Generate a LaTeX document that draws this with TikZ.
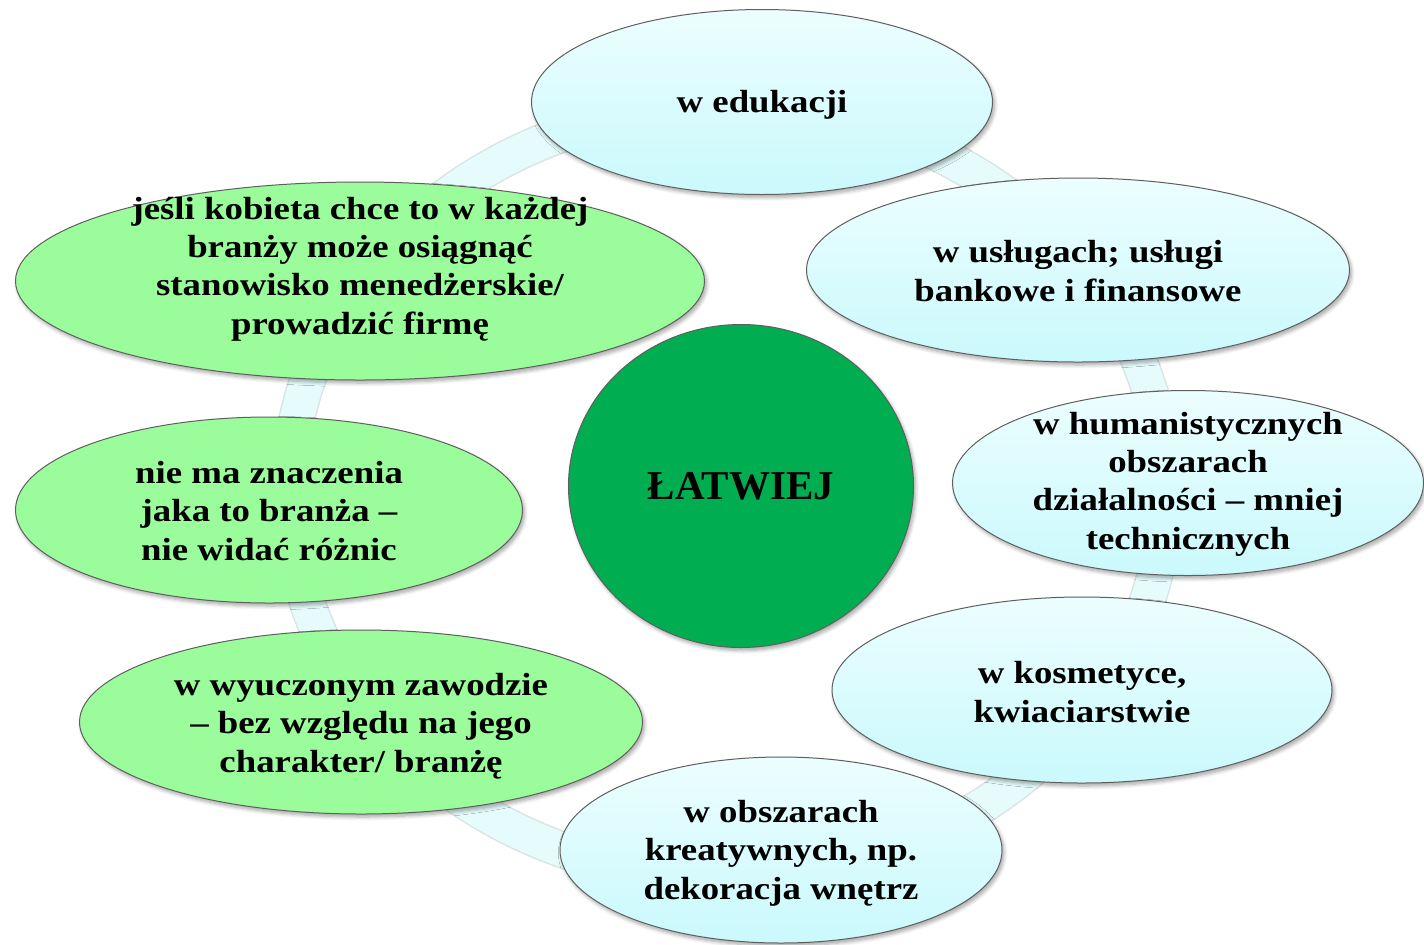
\documentclass[tikz,border=0pt]{standalone}
\usepackage{fontspec}
\setmainfont{Liberation Serif}[FakeStretch=1.15]
\newfontfamily\centerfont{Liberation Serif}
\usetikzlibrary{shapes.geometric,shadows.blur}
\definecolor{cyantop}{RGB}{236,254,255}
\definecolor{cyanbot}{RGB}{202,249,252}
\definecolor{lgreen}{RGB}{155,252,155}
\definecolor{dgreen}{RGB}{0,173,80}
\definecolor{ringc}{RGB}{230,252,252}
\definecolor{ringedge}{RGB}{218,228,228}
\definecolor{edgec}{RGB}{95,95,95}
\tikzset{
  bubble/.style={ellipse, draw=edgec, line width=0.5pt, inner sep=0pt,
    blur shadow={shadow xshift=1pt, shadow yshift=-1.5pt, shadow blur steps=6, shadow opacity=35}},
  cyanb/.style={bubble, top color=cyantop, bottom color=cyanbot},
  greenb/.style={bubble, fill=lgreen},
  txt/.style={inner sep=0pt, align=center, font=\fontsize{16}{19.2}\selectfont\bfseries},
  hub/.style={ellipse, draw=edgec, line width=0.5pt, fill=dgreen, inner sep=0pt,
    blur shadow={shadow xshift=1pt, shadow yshift=-1.5pt, shadow blur steps=6, shadow opacity=35},
    font=\centerfont\fontsize{20.5}{24}\selectfont\bfseries}
}
\begin{document}
\begin{tikzpicture}[x=0.5pt, y=-0.5pt]
\useasboundingbox (0,0) rectangle (1424,944);
\coordinate (rc) at (727,492);
% background ring
\draw[ringedge, line width=18.5pt] (rc) ellipse [x radius=219pt, y radius=193pt];
\draw[ringc, line width=17pt] (rc) ellipse [x radius=219pt, y radius=193pt];
% hub
\node[hub, minimum width=172.5pt, minimum height=161.5pt] (c) at (741,486) {\raisebox{-1pt}{ŁATWIEJ}};
% cyan bubbles
\node[cyanb, minimum width=230.5pt, minimum height=92.5pt] (e1) at (762,102) {};
\node[cyanb, minimum width=271.5pt, minimum height=92pt] (e2) at (1078,270) {};
\node[cyanb, minimum width=235.5pt, minimum height=92.5pt] (e3) at (1188,483) {};
\node[cyanb, minimum width=250pt, minimum height=93pt] (e4) at (1082,690) {};
\node[cyanb, minimum width=221pt, minimum height=93pt] (e5) at (781,850) {};
% green bubbles
\node[greenb, minimum width=281.5pt, minimum height=92pt] (e6) at (361,722) {};
\node[greenb, minimum width=253.5pt, minimum height=93pt] (e7) at (269,510) {};
\node[greenb, minimum width=344.5pt, minimum height=99pt] (e8) at (360,281) {};
% texts
\node[txt] (t1) at ([yshift=-1.5pt]e1.center) {w edukacji};
\node[txt] (t2) at ([yshift=-0.5pt]e2.center) {w usługach; usługi\\bankowe i finansowe};
\node[txt] (t3) at ([yshift=-0.5pt]e3.center) {w humanistycznych\\obszarach\\działalności – mniej\\technicznych};
\node[txt] (t4) at ([yshift=-1pt]e4.center) {w kosmetyce,\\kwiaciarstwie};
\node[txt] (t5) at ([yshift=-1.5pt]e5.center) {w obszarach\\kreatywnych, np.\\dekoracja wnętrz};
\node[txt] (t6) at ([yshift=-2pt]e6.center) {w wyuczonym zawodzie\\– bez względu na jego\\charakter/ branżę};
\node[txt] (t7) at ([yshift=-0.5pt]e7.center) {nie ma znaczenia\\jaka to branża –\\nie widać różnic};
\node[txt] (t8) at ([yshift=6pt]e8.center) {jeśli kobieta chce to w każdej\\branży może osiągnąć\\stanowisko menedżerskie/\\prowadzić firmę};
\end{tikzpicture}
\end{document}
